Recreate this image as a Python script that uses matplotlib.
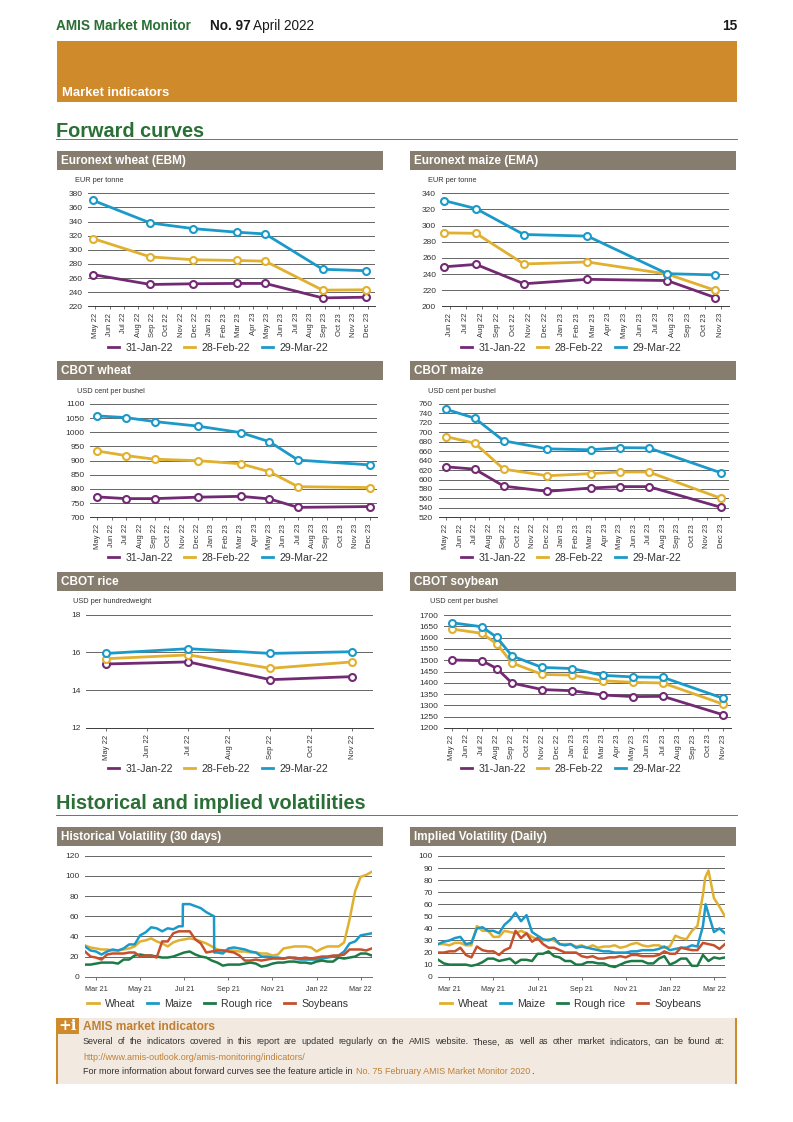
import matplotlib
matplotlib.use('Agg')
import matplotlib.pyplot as plt
from matplotlib.lines import Line2D
from matplotlib.patches import Rectangle

plt.rcParams['font.family'] = ['Liberation Sans', 'DejaVu Sans']

W, H = 793, 1122

PURPLE = '#722a73'
YELLOW = '#e0b02e'
TEAL = '#1b9ac9'
GREEN = '#1c7a45'
RED = '#c4502d'
HEADER = '#877d6e'
ORANGE = '#ce8a2b'
TITLE_GREEN = '#2a6f35'
PANEL = '#f2eae0'
LINK = '#c07f35'

DATES = ['31-Jan-22', '28-Feb-22', '29-Mar-22']

# month labels
months_may_dec = ['May 22', 'Jun 22', 'Jul 22', 'Aug 22', 'Sep 22', 'Oct 22', 'Nov 22', 'Dec 22', 'Jan 23', 'Feb 23',
                  'Mar 23', 'Apr 23', 'May 23', 'Jun 23', 'Jul 23', 'Aug 23', 'Sep 23', 'Oct 23', 'Nov 23', 'Dec 23']
months_jun_nov = months_may_dec[1:-1]
months_rice = months_may_dec[:7]
months_soy = months_may_dec[:-1]

# Euronext wheat
ebm_x = [-0.15, 3.85, 6.85, 9.85, 11.85, 15.85, 18.85]
ebm_jan = [265, 251, 252, 252.5, 252.5, 232, 233]
ebm_feb = [316, 290, 286, 285, 284, 243, 243.5]
ebm_mar = [370, 338, 330, 325, 322.5, 272.5, 270.5]

# Euronext maize
ema_x = [-0.35, 1.65, 4.65, 8.65, 13.65, 16.65]
ema_jan = [249, 252, 228, 233.5, 232, 211]
ema_feb = [291, 290.5, 252.5, 255, 240, 220]
ema_mar = [331, 321, 289, 287, 240.5, 239]

# CBOT wheat
cw_x = [0, 2, 4, 7, 10, 12, 14, 19]
cw_jan = [772, 766, 766, 771, 774, 765, 735, 738]
cw_feb = [934, 918, 905, 900, 889, 861, 808, 805]
cw_mar = [1058, 1052, 1038, 1022, 999, 967, 902, 885]

# CBOT maize
cm_x = [0, 2, 4, 7, 10, 12, 14, 19]
cm_jan = [627, 622, 586, 575, 582, 585, 585, 541]
cm_feb = [691, 677, 622, 608, 612.5, 616, 616, 560]
cm_mar = [749, 730, 682, 665, 663, 667.5, 667, 614]

# CBOT rice
cr_x = [0, 2, 4, 6]
cr_jan = [15.39, 15.5, 14.56, 14.72]
cr_feb = [15.67, 15.87, 15.16, 15.5]
cr_mar = [15.95, 16.2, 15.95, 16.04]

# CBOT soybean
cs_x = [0, 2, 3, 4, 6, 8, 10, 12, 14, 18]
cs_jan = [1501, 1498, 1463, 1399, 1370, 1365, 1346, 1339, 1340, 1258]
cs_feb = [1638, 1619, 1572, 1488, 1437, 1434, 1409, 1402, 1399, 1305]
cs_mar = [1666, 1648, 1601, 1519, 1468, 1463, 1433, 1426, 1424, 1331]

# volatility charts, months counted from Mar 21, one value per quarter month
vol_x = [i * 0.25 - 0.5 for i in range(53)]
vol_ticks = [0, 2, 4, 6, 8, 10, 12]
vol_labels = ['Mar 21', 'May 21', 'Jul 21', 'Sep 21', 'Nov 21', 'Jan 22', 'Mar 22']

hv_wheat = [31, 29, 28, 27, 27, 26, 26, 27, 28, 30, 35, 36, 38, 35, 33, 30, 34, 36, 37, 38, 37, 35, 33, 30, 27, 26, 26,
            26, 25, 25, 24, 24, 23, 23, 21, 22, 28, 29, 30, 30, 30, 29, 25, 28, 30, 30, 30, 34, 57, 85, 99, 101, 104]
hv_maize = [30, 26, 25, 22, 25, 27, 26, 28, 32, 32, 41, 44, 49, 48, 45, 48, 47, 50, 72, 72, 70, 68, 64, 61, 24, 23, 28,
            29, 28, 27, 25, 24, 20, 20, 19, 19, 18, 19, 18, 17, 17, 17, 17, 18, 19, 20, 21, 25, 33, 35, 41, 42, 43]
hv_rice = [12, 12, 13, 14, 14, 14, 13, 17, 17, 21, 22, 21, 21, 20, 19, 19, 20, 22, 24, 25, 22, 20, 19, 16, 14, 11, 12,
           12, 12, 13, 14, 13, 10, 11, 13, 14, 14, 15, 15, 14, 14, 13, 15, 16, 15, 15, 19, 18, 19, 20, 23, 23, 21]
hv_soy = [25, 20, 19, 17, 22, 23, 23, 23, 24, 24, 20, 21, 21, 19, 35, 35, 43, 45, 45, 45, 37, 33, 24, 25, 26, 26, 25,
          24, 21, 16, 16, 17, 16, 17, 18, 18, 18, 19, 19, 18, 19, 18, 19, 20, 20, 21, 21, 22, 27, 27, 27, 26, 28]

iv_wheat = [27, 27, 26, 28, 28, 26, 26, 42, 38, 38, 33, 33, 38, 37, 36, 38, 36, 33, 31, 30, 31, 30, 27, 27, 27, 25, 26,
            24, 26, 24, 25, 25, 26, 24, 25, 27, 28, 26, 25, 26, 26, 24, 25, 34, 32, 31, 38, 42, 68, 88, 65, 58, 50]
iv_maize = [27, 29, 30, 32, 33, 27, 28, 40, 41, 38, 38, 36, 43, 47, 53, 46, 51, 37, 34, 31, 30, 32, 27, 26, 27, 24, 25,
            24, 23, 22, 21, 21, 20, 20, 20, 21, 21, 22, 22, 22, 23, 25, 22, 23, 24, 24, 26, 25, 42, 52, 37, 40, 36]
iv_rice = [14, 11, 10, 10, 10, 10, 9, 10, 12, 15, 15, 13, 14, 15, 11, 14, 14, 13, 19, 19, 21, 17, 16, 13, 13, 10, 10,
           12, 12, 11, 11, 9, 8, 10, 12, 13, 13, 13, 11, 11, 15, 17, 10, 12, 15, 15, 9, 9, 18, 13, 16, 15, 16]
iv_soy = [20, 20, 21, 21, 24, 18, 16, 25, 22, 21, 21, 18, 22, 24, 38, 32, 36, 29, 32, 27, 24, 24, 22, 20, 20, 20, 17,
          16, 17, 15, 15, 16, 16, 17, 16, 18, 18, 17, 17, 17, 18, 21, 19, 19, 24, 23, 22, 22, 28, 27, 26, 23, 27]

# sharp steps and spikes that fall between the quarter months
hv_maize_steps = [(3.93, 50), (3.94, 72), (5.35, 60), (5.36, 24)]
iv_wheat_steps = [(11.6, 82)]
iv_maize_steps = [(11.62, 60)]


def merged(values, steps):
    points = sorted(list(zip(vol_x, values)) + steps)
    return [p[0] for p in points], [p[1] for p in points]


fig = plt.figure(figsize=(W / 100, H / 100), dpi=100)

# whole page layer in pixel coordinates
page = fig.add_axes([0, 0, 1, 1], zorder=0)
page.set_xlim(0, W)
page.set_ylim(H, 0)
page.axis('off')


def box(x0, y0, x1, y1, color):
    page.add_patch(Rectangle((x0, y0), x1 - x0, y1 - y0, facecolor=color, edgecolor='none'))


def px_axes(x0, y0, x1, y1):
    return fig.add_axes([x0 / W, 1 - y1 / H, (x1 - x0) / W, (y1 - y0) / H], zorder=2)


def style_axes(ax, ylim, yticks):
    ax.set_ylim(*ylim)
    ax.set_yticks(yticks)
    ax.patch.set_alpha(0)
    for side in ['top', 'left', 'right']:
        ax.spines[side].set_visible(False)
    ax.spines['bottom'].set_color('#3c3c3c')
    ax.spines['bottom'].set_linewidth(0.7)
    ax.grid(axis='y', color='#666666', linewidth=0.7)
    ax.set_axisbelow(True)
    ax.tick_params(axis='y', length=0, pad=4, labelsize=6, labelcolor='#333333')
    ax.tick_params(axis='x', length=2.2, width=0.5, color='#3c3c3c', pad=2.5, labelsize=5.5, labelcolor='#333333')


def legend(handles, names, xy):
    fig.legend(handles, names, loc='center', ncol=len(names), frameon=False, fontsize=7.6,
               bbox_to_anchor=(xy[0] / W, 1 - xy[1] / H), handlelength=1.05, handletextpad=0.6,
               columnspacing=1.1, labelcolor='#333333', borderpad=0, borderaxespad=0)


def forward_chart(rect, title_rect, title, unit, unit_x, unit_y, x, jan, feb, mar, labels, ylim, yticks, legend_xy):
    box(*title_rect, HEADER)
    page.text(title_rect[0] + 4, (title_rect[1] + title_rect[3]) / 2 + 0.3, title, color='white',
              fontweight='bold', fontsize=8.5, va='center')
    page.text(unit_x, unit_y, unit, fontsize=5.3, color='#333333', va='center')
    ax = px_axes(*rect)
    style_axes(ax, ylim, yticks)
    for values, color in zip([jan, feb, mar], [PURPLE, YELLOW, TEAL]):
        ax.plot(x, values, color=color, lw=2.0, marker='o', ms=5, mfc='white', mec=color, mew=1.5,
                solid_joinstyle='round', clip_on=False)
    ax.set_xlim(-0.5, len(labels) - 0.5)
    ax.set_xticks(range(len(labels)))
    ax.set_xticklabels(labels, rotation=90)
    handles = [Line2D([], [], color=c, lw=2.0) for c in [PURPLE, YELLOW, TEAL]]
    legend(handles, DATES, legend_xy)


def vol_chart(rect, title_rect, title, series, ylim, yticks, legend_xy):
    box(*title_rect, HEADER)
    page.text(title_rect[0] + 4, (title_rect[1] + title_rect[3]) / 2 + 0.3, title, color='white',
              fontweight='bold', fontsize=8.5, va='center')
    ax = px_axes(*rect)
    style_axes(ax, ylim, yticks)
    ax.spines['bottom'].set_color('#6e6e6e')
    for (xs, values), color in zip(series, [YELLOW, TEAL, GREEN, RED]):
        ax.plot(xs, values, color=color, lw=1.8, solid_joinstyle='round')
    ax.set_xlim(-0.5, 12.5)
    ax.set_xticks(vol_ticks)
    ax.set_xticklabels(vol_labels)
    ax.tick_params(axis='x', pad=4.5, labelsize=5.2)
    handles = [Line2D([], [], color=c, lw=2.0) for c in [YELLOW, TEAL, GREEN, RED]]
    legend(handles, ['Wheat', 'Maize', 'Rough rice', 'Soybeans'], legend_xy)


# page header
page.text(56, 30, 'AMIS Market Monitor', color=TITLE_GREEN, fontweight='bold', fontsize=9.8)
page.text(210, 30, 'No. 97', color='#1a1a1a', fontweight='bold', fontsize=9.8)
page.text(253, 30, 'April 2022', color='#1a1a1a', fontsize=9.8)
page.text(737, 30, '15', color='#1a1a1a', fontweight='bold', fontsize=9.8, ha='right')
box(56.7, 41, 737, 101.5, ORANGE)
page.text(62.5, 95.5, 'Market indicators', color='white', fontweight='bold', fontsize=9.4)

page.text(56, 137, 'Forward curves', color=TITLE_GREEN, fontweight='bold', fontsize=14.3)
page.plot([56, 737], [139.3, 139.3], color='#707070', lw=0.7)
page.text(56, 809, 'Historical and implied volatilities', color=TITLE_GREEN, fontweight='bold', fontsize=14.3)
page.plot([56, 737], [815.3, 815.3], color='#707070', lw=0.7)

forward_chart((88, 193.3, 375, 306.4), (56.7, 151, 382.7, 169.7), 'Euronext wheat (EBM)', 'EUR per tonne', 75, 180,
              ebm_x, ebm_jan, ebm_feb, ebm_mar, months_may_dec, (220, 380), range(220, 381, 20), (218, 348))
forward_chart((441.7, 193.3, 728.5, 306.4), (410, 151, 736, 169.7), 'Euronext maize (EMA)', 'EUR per tonne', 428, 180,
              ema_x, ema_jan, ema_feb, ema_mar, months_jun_nov, (200, 340), range(200, 341, 20), (571, 348))
forward_chart((90, 404, 377, 517.3), (56.7, 361, 382.7, 379.5), 'CBOT wheat', 'USD cent per bushel', 77, 391,
              cw_x, cw_jan, cw_feb, cw_mar, months_may_dec, (700, 1100), range(700, 1101, 50), (218, 558))
forward_chart((438.5, 404, 728.5, 517.3), (410, 361, 736, 379.5), 'CBOT maize', 'USD cent per bushel', 428, 391,
              cm_x, cm_jan, cm_feb, cm_mar, months_may_dec, (520, 760), range(520, 761, 20), (571, 558))
forward_chart((86, 614.7, 372.7, 728), (56.7, 572.3, 382.7, 590.7), 'CBOT rice', 'USD per hundredweight', 73, 601,
              cr_x, cr_jan, cr_feb, cr_mar, months_rice, (12, 18), range(12, 19, 2), (218, 769))
forward_chart((444, 615, 731, 728), (410, 572.3, 736, 590.7), 'CBOT soybean', 'USD cent per bushel', 430, 601,
              cs_x, cs_jan, cs_feb, cs_mar, months_soy, (1200, 1700), range(1200, 1701, 50), (571, 769))

vol_chart((85, 855.7, 371.7, 976.7), (56.7, 827.3, 382.7, 845.7), 'Historical Volatility (30 days)',
          [(vol_x, hv_wheat), merged(hv_maize, hv_maize_steps), (vol_x, hv_rice), (vol_x, hv_soy)],
          (0, 120), range(0, 121, 20), (218, 1004))
vol_chart((438.3, 856, 725, 976.7), (410, 827.3, 736, 845.7), 'Implied Volatility (Daily)',
          [merged(iv_wheat, iv_wheat_steps), merged(iv_maize, iv_maize_steps), (vol_x, iv_rice), (vol_x, iv_soy)],
          (0, 100), range(0, 101, 10), (571, 1004))

# note at the bottom
box(56, 1018, 737, 1084, PANEL)
box(56, 1018, 57.5, 1084, ORANGE)
box(735, 1018, 737, 1084, ORANGE)
box(57, 1018, 79, 1034, ORANGE)
page.text(68, 1026, '+i', color='white', fontweight='bold', fontsize=11, ha='center', va='center', family='DejaVu Serif')
page.text(83, 1030, 'AMIS market indicators', color=LINK, fontweight='bold', fontsize=8.6)

renderer = fig.canvas.get_renderer()
note_line = ('Several of the indicators covered in this report are updated regularly on the AMIS website. '
             'These, as well as other market indicators, can be found at:')
words = [page.text(83, 1042, w, fontsize=6.5, color='#333333', va='center') for w in note_line.split()]
sizes = [w.get_window_extent(renderer).width for w in words]
gap = (725 - 83 - sum(sizes)) / (len(words) - 1)
pos = 83
for w, size in zip(words, sizes):
    w.set_x(pos)
    pos += size + gap

page.text(83, 1057, 'http://www.amis-outlook.org/amis-monitoring/indicators/', fontsize=6.5, color=LINK, va='center')
first = page.text(83, 1072, 'For more information about forward curves see the feature article in ', fontsize=6.5,
                  color='#333333', va='center')
pos = 83 + first.get_window_extent(renderer).width + 1.5
second = page.text(pos, 1072, 'No. 75 February AMIS Market Monitor 2020', fontsize=6.5, color=LINK, va='center')
pos += second.get_window_extent(renderer).width
page.text(pos, 1072, '.', fontsize=6.5, color='#333333', va='center')

fig.savefig('out.png', dpi=100)
